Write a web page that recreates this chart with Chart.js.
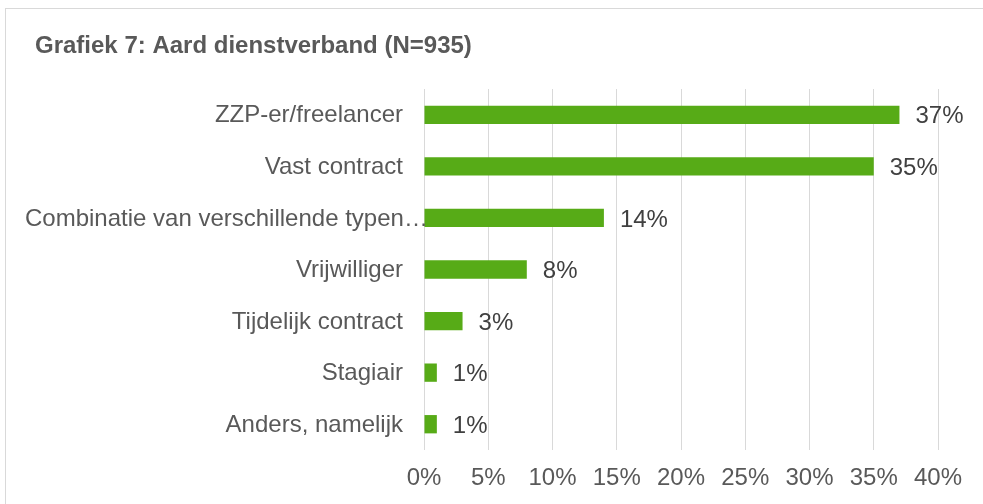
<!DOCTYPE html>
<html>
<head>
<meta charset="utf-8">
<script src="https://cdn.jsdelivr.net/npm/chart.js@4/dist/chart.umd.min.js"></script>
<style>
  html, body { margin: 0; padding: 0; background: #fff; overflow: hidden; }
  #wrap { position: relative; width: 983px; height: 504px; overflow: hidden; }
  #frame { position: absolute; left: 5px; top: 8px; width: 1100px; height: 600px; border: 1px solid #d9d9d9; box-sizing: border-box; }
  canvas { position: absolute; left: 0; top: 0; }
</style>
</head>
<body>
<div id="wrap">
  <div id="frame"></div>
  <canvas id="c" width="983" height="504"></canvas>
</div>
<script>
const chartTitle = "Grafiek 7: Aard dienstverband (N=935)";
const categories = [
  "ZZP-er/freelancer",
  "Vast contract",
  "Combinatie van verschillende typen…",
  "Vrijwilliger",
  "Tijdelijk contract",
  "Stagiair",
  "Anders, namelijk"
];
const percentages = [37, 35, 14, 8, 3, 1, 1];
const xTickValues = [0, 5, 10, 15, 20, 25, 30, 35, 40];

const FONT = "'Liberation Sans', Arial, sans-serif";

const labelPlugin = {
  id: 'labels',
  afterDatasetsDraw(chart) {
    const ctx = chart.ctx;
    const meta = chart.getDatasetMeta(0);
    const yScale = chart.scales.y;
    ctx.save();
    // value labels
    ctx.font = "24px " + FONT;
    ctx.fillStyle = "#404040";
    ctx.textAlign = "left";
    ctx.textBaseline = "middle";
    meta.data.forEach((bar, i) => {
      ctx.fillText(percentages[i] + "%", bar.x + 16, bar.y + 2);
    });
    // category labels
    ctx.fillStyle = "#595959";
    categories.forEach((lab, i) => {
      const y = yScale.getPixelForTick(i) + 1;
      const w = ctx.measureText(lab).width;
      const rightEdge = chart.chartArea.left - 21;
      if (w > rightEdge - 20) {
        ctx.textAlign = "left";
        ctx.fillText(lab, 25, y);
      } else {
        ctx.textAlign = "right";
        ctx.fillText(lab, rightEdge, y);
      }
    });
    // title
    ctx.font = "bold 24px " + FONT;
    ctx.textAlign = "left";
    ctx.fillStyle = "#595959";
    ctx.fillText(chartTitle, 35, 46);
    ctx.restore();
  }
};

new Chart(document.getElementById('c'), {
  type: 'bar',
  data: {
    labels: categories,
    datasets: [{
      data: percentages,
      backgroundColor: '#57ab17',
      borderWidth: 0,
      categoryPercentage: 0.355,
      barPercentage: 1.0
    }]
  },
  options: {
    indexAxis: 'y',
    responsive: false,
    animation: false,
    layout: { padding: { top: 89, right: 45, left: 0, bottom: 0 } },
    plugins: { legend: { display: false }, tooltip: { enabled: false } },
    scales: {
      x: {
        min: 0, max: 40,
        afterBuildTicks(scale) { scale.ticks = xTickValues.map(v => ({ value: v })); },
        afterFit(scale) { scale.height = 54; },
        grid: { color: '#d9d9d9', lineWidth: 1, drawTicks: false },
        border: { display: false },
        ticks: {
          padding: 14,
          color: '#595959',
          font: { family: FONT, size: 24 },
          callback: v => v + '%'
        }
      },
      y: {
        afterFit(scale) { scale.width = 424; },
        grid: { display: false },
        border: { display: false },
        ticks: { display: false }
      }
    }
  },
  plugins: [labelPlugin]
});
</script>
</body>
</html>
